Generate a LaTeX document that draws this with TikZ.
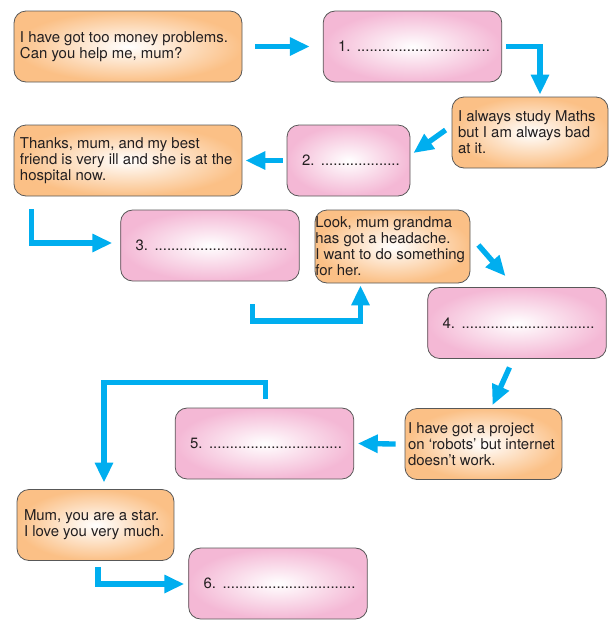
\documentclass[tikz,border=0pt]{standalone}
\usepackage{fontspec}
\setmainfont{TeX Gyre Heros}
\usepackage{tikz}
\usetikzlibrary{arrows.meta,calc}

\definecolor{talkfill}{RGB}{251,192,134}
\definecolor{blankfill}{RGB}{244,184,213}
\definecolor{boxline}{RGB}{88,88,88}
\definecolor{flowblue}{RGB}{0,174,239}
\definecolor{ink}{RGB}{35,31,32}

% dotted answer line
\newcommand{\gapdots}{\leaders\hbox to 0.278em{\hss.\hss}\hskip 0pt plus 1filll\hbox{}}

\tikzset{
  talk/.style={draw=boxline, line width=0.6pt, rounded corners=9pt, inner color=white, outer color=talkfill,
    minimum height=53.25pt, inner ysep=0pt, inner xsep=1pt, align=flush left, text=ink,
    font=\fontsize{11.2}{12}\selectfont},
  lpad/.style={execute at begin node={\leftskip=#1}},
  blank/.style={draw=boxline, line width=0.6pt, rounded corners=9pt, inner color=white, outer color=blankfill,
    minimum height=53.25pt, inner ysep=0pt, inner xsep=6.75pt, text width=#1, align=flush left, text=ink,
    font=\fontsize{11.2}{12}\selectfont, execute at begin node=\hspace*{4.5pt}},
  blank/.default=120.5pt,
  flow/.style={draw=flowblue, line width=4pt, -{Triangle[length=15pt,width=13pt]}}
}

\begin{document}
\begin{tikzpicture}[x=0.75pt,y=0.75pt,yscale=-1,xscale=1]
\useasboundingbox (0,0) rectangle (614,626);
% Boxes
\node[talk, text width=169pt, lpad=3.5pt] (qa) at (128,46.5) {I have got too money problems.\\Can you help me, mum?};
\node[blank] (a1) at (412.5,46.5) {1.~\gapdots};
\node[talk, text width=115pt, lpad=3.5pt] (qb) at (530,132.5) {I always study Maths\\but I am always bad\\at it.};
\node[blank=78.75pt] (a2) at (348.5,160.5) {2.~\gapdots};
\node[talk, text width=169pt, lpad=3.5pt] (qc) at (128,160.5) {Thanks, mum, and my best\\friend is very ill and she is at the\\hospital now.};
\node[blank] (a3) at (210,245.5) {3.~\gapdots};
\node[talk, text width=115.75pt, inner xsep=0.25pt, minimum height=54.75pt] (qd) at (392.5,246.5) {Look, mum grandma\\has got a headache.\\I want to do something\\for her.};
\node[blank] (a4) at (517,323) {4.~\gapdots};
\node[talk, text width=115.75pt, lpad=1.25pt] (qe) at (483.5,444) {I have got a project\\on `robots' but internet\\doesn't work.};
\node[blank] (a5) at (264.5,443.5) {5.~\gapdots};
\node[talk, text width=115.75pt, lpad=4.25pt] (qf) at (95.5,525) {Mum, you are a star.\\I love you very much.};
\node[blank] (a6) at (278,583.5) {6.~\gapdots};
% Arrows
\draw[flow] ($(qa.east)+(13,0)$) -- ($(a1.west)+(-13,0)$);
\draw[flow] ($(a1.east)+(4,0)$) -| ($(qb.north)+(10,-2)$);
\draw[flow] ($(qb.west)+(-6,-2.5)$) -- ($(a2.east)+(3,-7.5)$);
\draw[flow] ($(a2.west)+(-4,0)$) -- ($(qc.east)+(3,0)$);
\draw[flow] ($(qc.south west)+(18,13)$) |- ($(a3.west)+(-8,-2.5)$);
\draw[flow] ($(a3.south)+(42.5,23)$) -- ++(0,16.5) -| ($(qd.south)+(-32,2)$);
\draw[flow] ($(qd.east)+(8,-1.5)$) -- ($(a4.north)+(-11.5,-11)$);
\draw[flow] ($(a4.south)+(-7.5,8.5)$) -- ($(qe.north)+(9,-3)$);
\draw[flow] ($(qe.west)+(-9,0)$) -- ($(a5.east)+(3.5,0)$);
\draw[flow] ($(a5.north)+(1,-9)$) -- ++(0,-16) -| ($(qf.north)+(8.5,-6.5)$);
\draw[flow] ($(qf.south)+(2.5,6)$) |- ($(a6.west)+(-4,0.5)$);
\end{tikzpicture}
\end{document}
